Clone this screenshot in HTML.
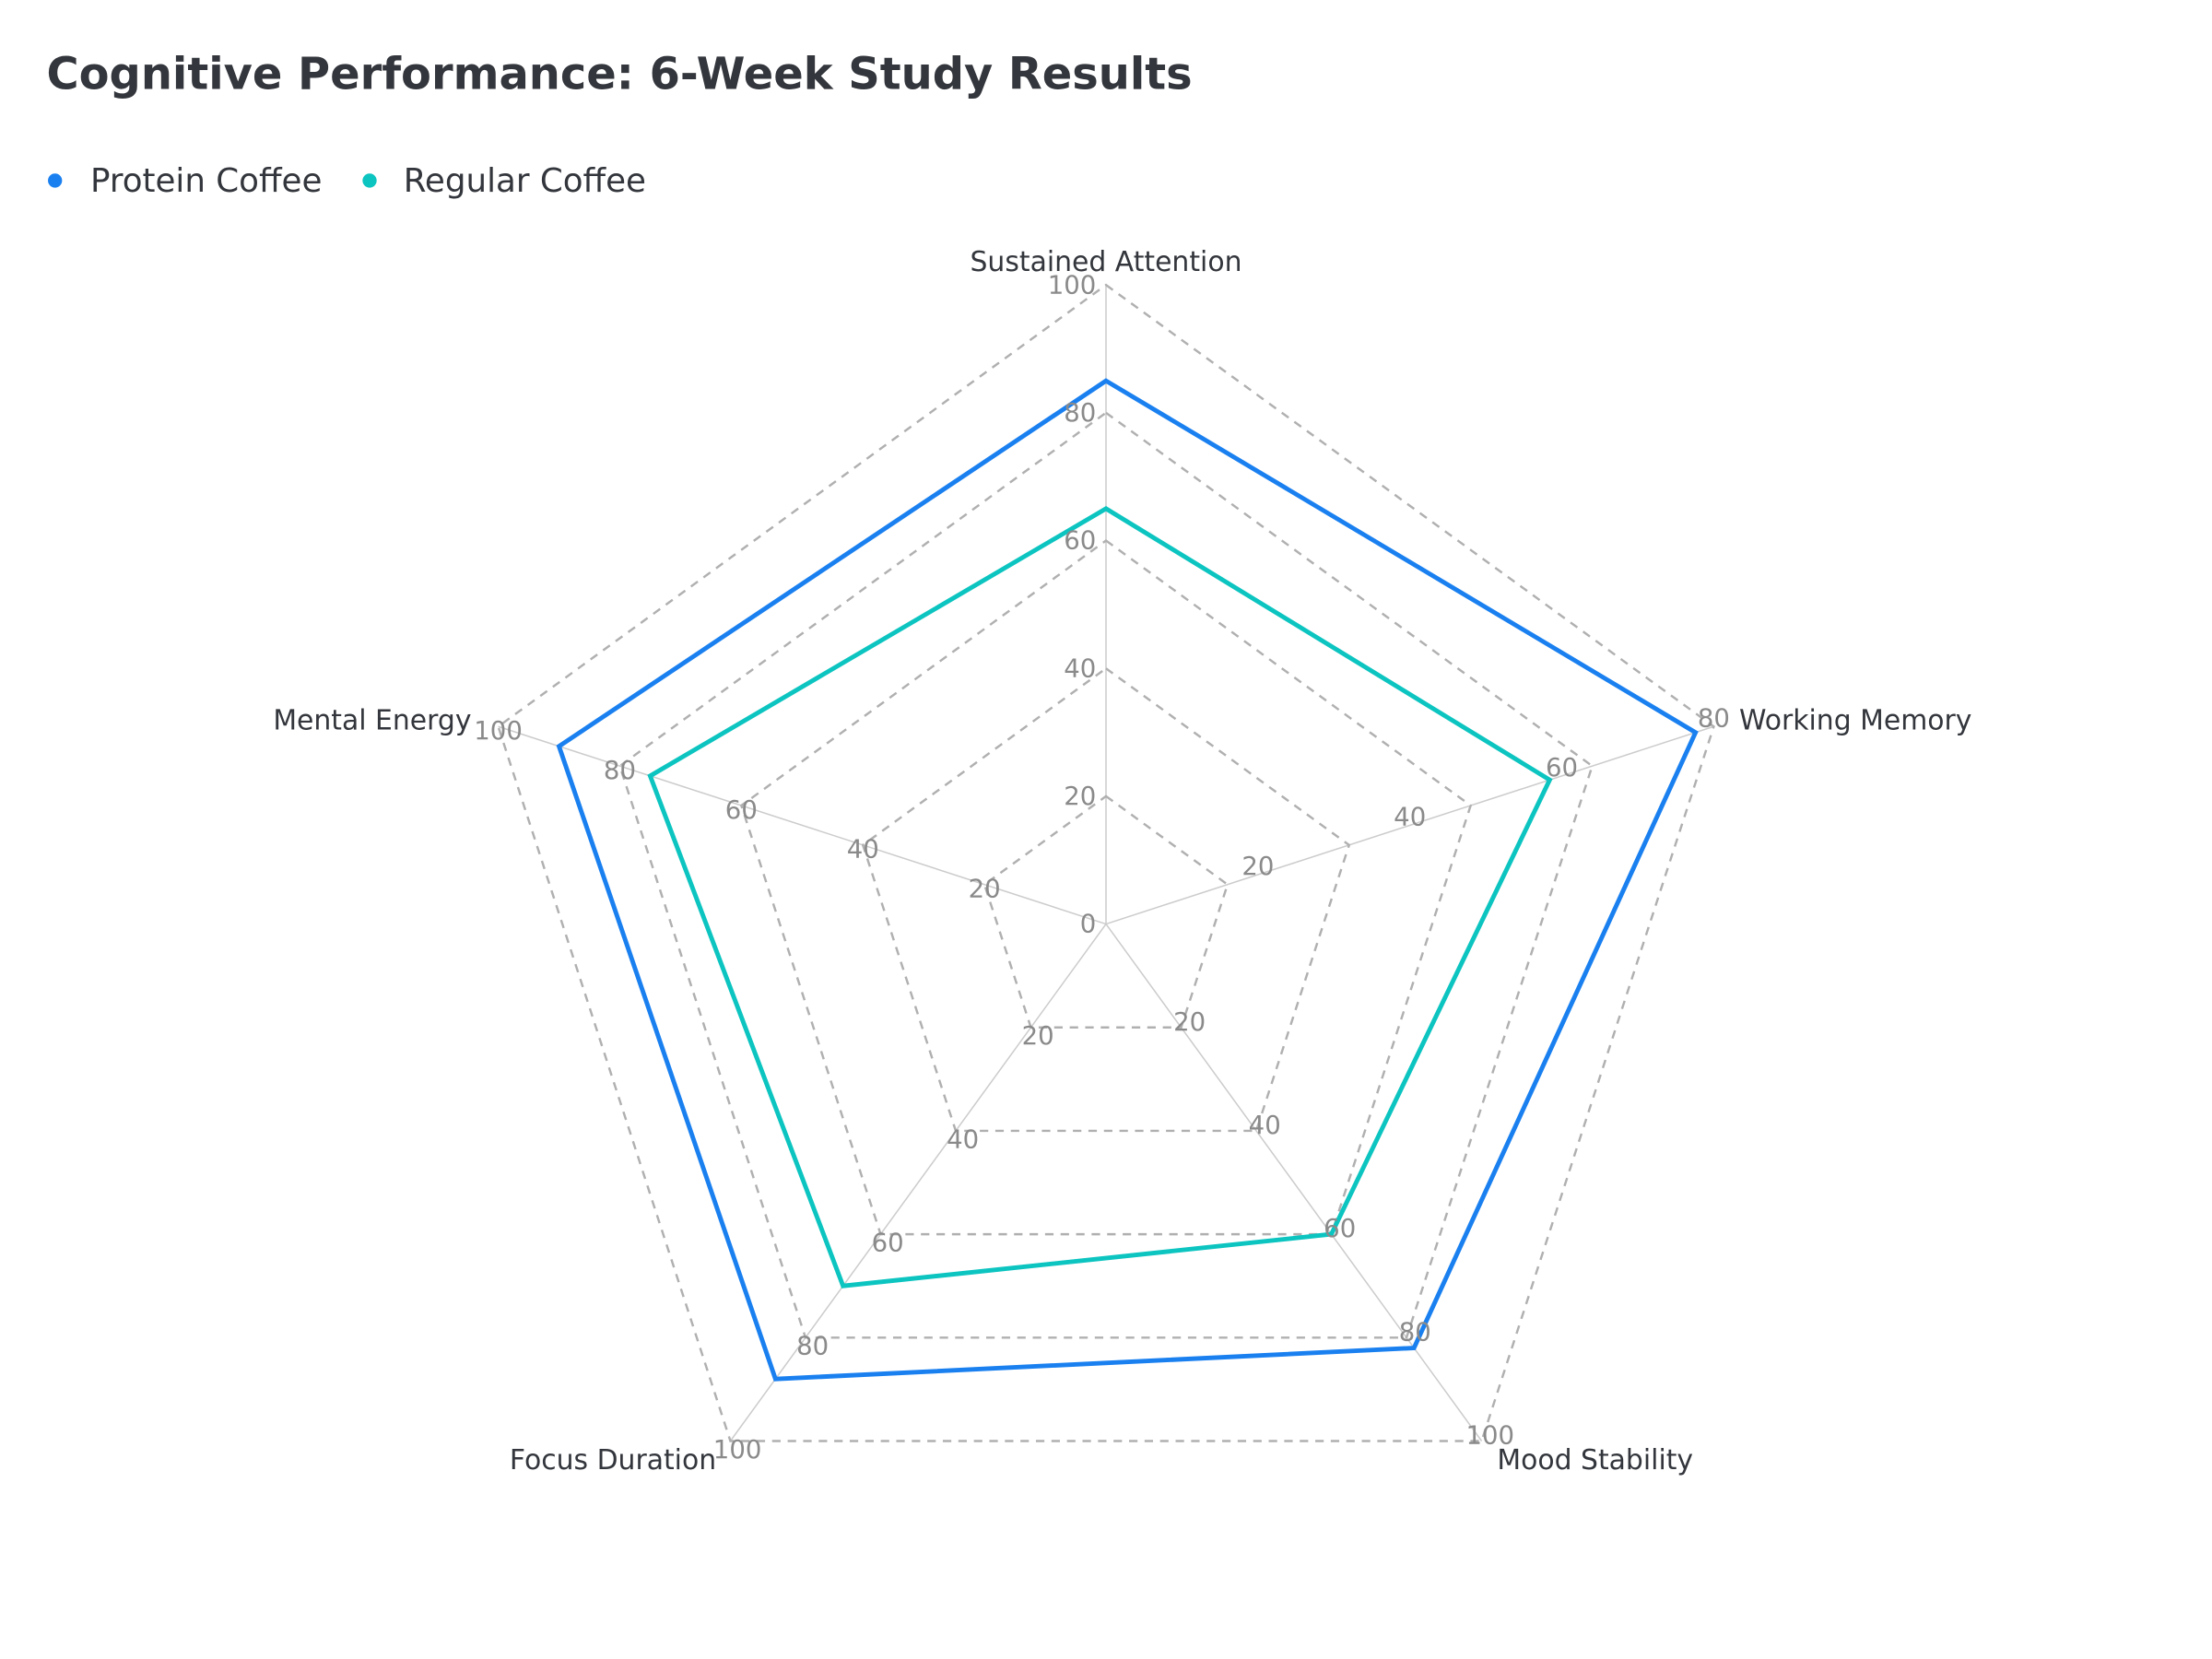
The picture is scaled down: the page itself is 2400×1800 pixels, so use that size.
<!DOCTYPE html>
<html><head><meta charset="utf-8"><style>
html,body{margin:0;padding:0;background:#fff}
svg{display:block}
text{font-family:"DejaVu Sans","Liberation Sans",sans-serif}
</style></head><body>
<svg id="chart" width="2400" height="1800" viewBox="0 0 1568 1176" xmlns="http://www.w3.org/2000/svg">
<rect width="1568" height="1176" fill="#fff"/>
<text x="33" y="63" font-size="31.3" font-weight="bold" fill="#33363c">Cognitive Performance: 6-Week Study Results</text>
<g>
<g><circle cx="39" cy="128" r="5" fill="#1a80f0"/><text x="64" y="136" font-size="23.3" fill="#33363c">Protein Coffee</text></g>
<g><circle cx="262" cy="128" r="5" fill="#0cc4c0"/><text x="286" y="136" font-size="23.3" fill="#33363c">Regular Coffee</text></g>
</g>
<g id="grid"></g>
<g id="series"></g>
<g id="labels"></g>
</svg>
<script>
const categories = ["Sustained Attention","Working Memory","Mood Stability","Focus Duration","Mental Energy"];
const proteinValues = [85, 97, 82, 88, 90];
const regularValues = [65, 73, 60, 70, 75];
const tickValues = [0, 20, 40, 60, 80, 100];
const tickLabels = ["0","20","40","60","80","100"];

const NS = "http://www.w3.org/2000/svg";
const cx = 784, cy = 655, R = 453, maxV = 100;
function ang(i){ return -Math.PI/2 + i*2*Math.PI/categories.length; }
function pt(i, v){ const r = v/maxV*R; return [cx + r*Math.cos(ang(i)), cy + r*Math.sin(ang(i))]; }
function mk(tag, attrs, parent){ const e = document.createElementNS(NS, tag); for (const k in attrs) e.setAttribute(k, attrs[k]); parent.appendChild(e); return e; }
const grid = document.getElementById('grid'), series = document.getElementById('series'), labels = document.getElementById('labels');

categories.forEach((c, i) => {
  const [x, y] = pt(i, maxV);
  const l = mk('line', {x1: cx, y1: cy, x2: x, y2: y, stroke: '#cccccc', 'stroke-width': 1}, grid);
  
  
});
tickValues.forEach(v => {
  if (v === 0) return;
  const pts = categories.map((c, i) => pt(i, v).join(',')).join(' ');
  const p = mk('polygon', {points: pts, fill: 'none', stroke: '#b0b0b0', 'stroke-width': 1.6, 'stroke-dasharray': '6,5'}, grid);
  
  
});
categories.forEach((c, i) => {
  tickValues.forEach((v, k) => {
    if (v === 0 && i !== 0) return;
    let pos = v;
    if (i === 1) { if (v === 0 || v === 100) return; pos = v * 1.25; }
    const [x, y] = pt(i, pos);
    let ax = x, anchor = 'middle', dy = 7;
    if (i === 0) { ax = x - 7; anchor = 'end'; dy = 6; }
    else if (i === 1) { ax = x; anchor = 'middle'; dy = 0; }
    else if (i === 2) { ax = x + 6; dy = 2; }
    else if (i === 3) { ax = x + 5; dy = 12; }
    else { ax = x; dy = 9; }
    const t = mk('text', {x: ax, y: y + dy, 'font-size': 18, fill: '#8a8a8a', 'text-anchor': anchor}, labels);
    t.textContent = tickLabels[k];
    
    
  });
});
function drawSeries(vals, color, name){
  const pts = vals.map((v, i) => pt(i, v).join(',')).join(' ');
  const p = mk('polygon', {points: pts, fill: 'none', stroke: color, 'stroke-width': 3.2, 'stroke-linejoin': 'miter'}, series);
  
  
}
drawSeries(regularValues, '#0cc4c0', 'regular-coffee-line');
drawSeries(proteinValues, '#1a80f0', 'protein-coffee-line');

const catPos = [[0,-12,'middle'],[18,0,'start'],[11,18,'start'],[-10,18,'end'],[-19,0,'end']];
categories.forEach((c, i) => {
  const [x, y] = pt(i, maxV);
  const t = mk('text', {x: x + catPos[i][0], y: y + catPos[i][1] + 2, 'font-size': 19.5, fill: '#33363c', 'text-anchor': catPos[i][2]}, labels);
  t.textContent = c;
  
  
});
</script>
</body></html>
